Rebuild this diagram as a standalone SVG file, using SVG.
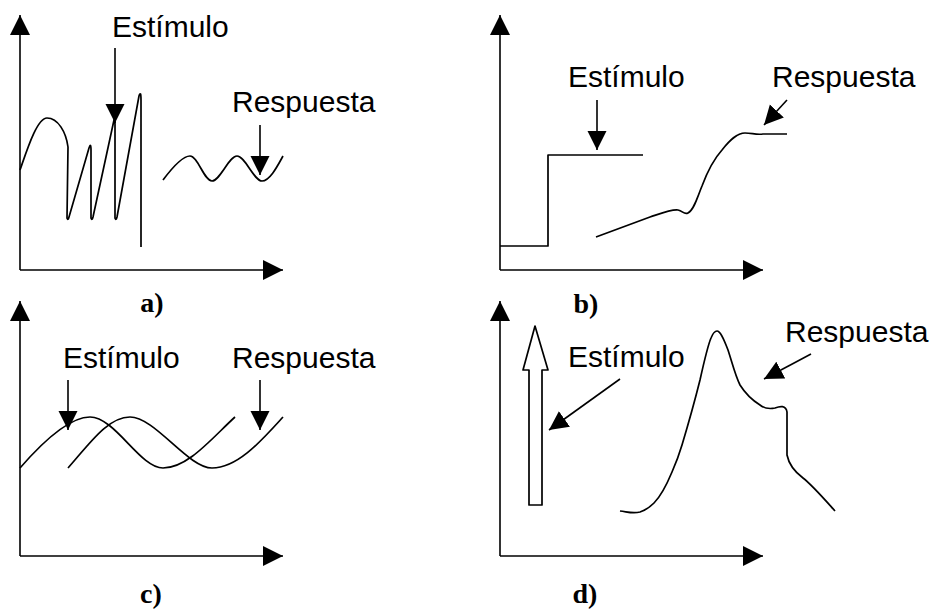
<svg xmlns="http://www.w3.org/2000/svg" width="938" height="610" viewBox="0 0 938 610">
<style>
.ln{fill:none;stroke:#000;stroke-width:1.7;stroke-linejoin:round;stroke-linecap:butt}
.ax{fill:none;stroke:#000;stroke-width:1.6;marker-end:url(#ah)}
.la{fill:none;stroke:#000;stroke-width:1.6;marker-end:url(#lh)}
.t{font-family:"Liberation Sans",Arial,sans-serif;font-size:30px;fill:#000}
.lb{font-family:"Liberation Serif","Times New Roman",serif;font-size:28px;font-weight:bold;fill:#000;text-anchor:middle}
</style>
<defs>
<marker id="ah" markerUnits="userSpaceOnUse" markerWidth="20" markerHeight="20" refX="20" refY="10" orient="auto"><path d="M0,0 L20,10 L0,20 Z" fill="#000"/></marker>
<marker id="lh" markerUnits="userSpaceOnUse" markerWidth="19" markerHeight="20" refX="19" refY="10" orient="auto"><path d="M0,0.5 L19,10 L0,19.5 Z" fill="#000"/></marker>
</defs>
<rect width="938" height="610" fill="#fff"/>

<g id="panel-a">
<path class="ax" d="M20,270 L20,15"/>
<path class="ax" d="M20,270 L283,270"/>
<path class="ln" d="M20,170 C27,150 37,118 47,118 C58,118 66,132 68,147 L67,218 Q68,221 69,217 L89,148 Q91,142 91,150 L91,218 Q92,221 93,217 L114,120 Q115,116 115,124 L115,218 Q116,221 117,217 L139,96 Q141,90 141,100 L141,247"/>
<path class="ln" d="M163,180 C172,168 182,156 190,156 C198,156 204,181 212,181 C220,181 229,156 237,156 C245,156 254,181 262,181 C270,181 278,165 283,156"/>
<text class="t" x="112" y="37">Estímulo</text>
<text class="t" x="232" y="112">Respuesta</text>
<text class="lb" x="152" y="312">a)</text>
</g>

<g id="panel-b">
<path class="ax" d="M500,270 L500,15"/>
<path class="ax" d="M500,270 L763,270"/>
<polyline class="ln" points="500,246 548,246 548,155 643,155"/>
<path class="ln" d="M596,237 L650,217 C662,213 672,209 678,210 C683,211 684,215 688,213 C694,210 697,198 702,186 C708,170 713,160 722,150 C730,140 737,133 745,133 C752,133 756,135 763,134 L787,134"/>
<text class="t" x="568" y="87">Estímulo</text>
<text class="t" x="772" y="87">Respuesta</text>
<text class="lb" x="586" y="313">b)</text>
</g>

<g id="panel-c">
<path class="ax" d="M20,556 L20,301"/>
<path class="ax" d="M20,556 L283,556"/>
<path class="ln" d="M20,468 C40,445 68,417 90,417 C115,417 140,468 163,468 C188,468 212,438 235,417"/>
<path class="ln" d="M68,468 C90,443 108,417 130,417 C155,417 188,468 212,468 C238,468 262,440 283,417"/>
<text class="t" x="63" y="368">Estímulo</text>
<text class="t" x="232" y="368">Respuesta</text>
<text class="lb" x="151" y="603">c)</text>
</g>

<g id="panel-d">
<path class="ax" d="M500,556 L500,301"/>
<path class="ax" d="M500,556 L763,556"/>
<path class="ln" d="M535,326 L548,370 L542,370 L542,505 L529,505 L529,370 L523,370 Z"/>
<path class="ln" d="M620,511 C628,512 633,514 640,512 C646,510 650,507 654,503 C662,495 667,484 672,472 C676,463 679,455 682,445 C688,425 695,400 700,380 C704,362 708,345 711,338 C713,333 715,331 717,331 C720,331 723,337 728,350 C732,362 735,375 740,385 C745,393 752,400 760,405 C765,409 770,409 775,408 C780,406 786,405 787,412 L787,455 C789,465 795,472 803,478 C812,485 818,492 835,511"/>
<text class="t" x="568" y="367">Estímulo</text>
<text class="t" x="785" y="342">Respuesta</text>
<text class="lb" x="585" y="603">d)</text>
</g>

<g id="connectors">
<path class="la" d="M115,48 L115,123"/>
<path class="la" d="M260,125 L260,175"/>
<path class="la" d="M597,100 L597,150"/>
<path class="la" d="M787,100 L764,125"/>
<path class="la" d="M68,380 L68,430"/>
<path class="la" d="M260,380 L260,430"/>
<path class="la" d="M620,379 L549,430"/>
<path class="la" d="M811,354 L764,379"/>
</g>
</svg>
